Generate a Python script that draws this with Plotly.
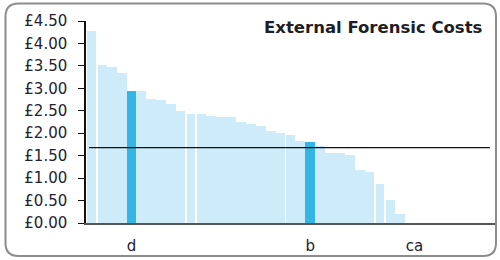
import plotly.graph_objects as go

# ---- data ----
costs = [4.28, 3.51, 3.47, 3.34, 2.95, 2.93, 2.77, 2.74, 2.66, 2.49,
         2.42, 2.42, 2.39, 2.36, 2.36, 2.24, 2.21, 2.16, 2.06, 2.01,
         1.95, 1.83, 1.80, 1.71, 1.57, 1.55, 1.51, 1.19, 1.13, 0.86,
         0.51, 0.21]
highlight = [4, 22]                 # indices of the dark bars
tick_labels = ["d", "b", "ca"]
tick_index = [4, 22, 32.5]
average = 1.68
y_ticks = [0, 0.5, 1, 1.5, 2, 2.5, 3, 3.5, 4, 4.5]
title_text = "External Forensic Costs"

LIGHT = "#CDEBF8"
DARK = "#33B6E6"

n = len(costs)
xs = list(range(n))
colors = [DARK if i in highlight else LIGHT for i in xs]

# small white separators seen between some bars
gap_bounds = [1, 10, 11, 20, 29, 30]
trim = 0.09
offsets = [-0.5] * n
widths = [1.0] * n
for b in gap_bounds:
    widths[b - 1] -= trim
    offsets[b] += trim
    widths[b] -= trim

fig = go.Figure()
fig.add_trace(go.Bar(
    x=xs, y=costs, marker=dict(color=colors, line=dict(width=0)),
    width=widths, offset=offsets, hoverinfo="skip"))

W, H = 500, 260
ML, MR, MT, MB = 86, 5, 21, 37
pw, ph = W - ML - MR, H - MT - MB

def px_x(px):
    return (px - ML) / pw

def px_y(py):
    return (H - MB - py) / ph

# rounded frame
x0, x1, y0, y1, r = 5.5, 496, 3.5, 256, 13
path = (f"M {px_x(x0+r)},{px_y(y0)} L {px_x(x1-r)},{px_y(y0)} "
        f"Q {px_x(x1)},{px_y(y0)} {px_x(x1)},{px_y(y0+r)} "
        f"L {px_x(x1)},{px_y(y1-r)} Q {px_x(x1)},{px_y(y1)} {px_x(x1-r)},{px_y(y1)} "
        f"L {px_x(x0+r)},{px_y(y1)} Q {px_x(x0)},{px_y(y1)} {px_x(x0)},{px_y(y1-r)} "
        f"L {px_x(x0)},{px_y(y0+r)} Q {px_x(x0)},{px_y(y0)} {px_x(x0+r)},{px_y(y0)} Z")
fig.add_shape(type="path", path=path, xref="paper", yref="paper",
              line=dict(color="#8C8C8C", width=2), layer="below")

# average line
fig.add_shape(type="line", xref="paper", yref="y",
              x0=px_x(89), x1=px_x(490), y0=average, y1=average,
              line=dict(color="#111111", width=1.3))

fig.add_annotation(text=f"<b>{title_text}</b>", xref="paper", yref="paper",
                   x=px_x(485), y=px_y(27), xanchor="right", yanchor="middle",
                   showarrow=False,
                   font=dict(family="DejaVu Sans", size=16.5, color="#1E1E28"))

fig.update_layout(
    width=W, height=H, margin=dict(l=ML, r=MR, t=MT, b=MB, autoexpand=False),
    paper_bgcolor="white", plot_bgcolor="white",
    bargap=0, showlegend=False,
    font=dict(family="DejaVu Sans", size=15, color="#222230"),
)
fig.update_xaxes(range=[-0.58, 40.6], tickvals=tick_index, ticktext=tick_labels,
                 showgrid=False, zeroline=False, showline=True,
                 linecolor="#555555", linewidth=2, ticks="",
                 ticklabelstandoff=8, automargin=False, fixedrange=True)
fig.update_yaxes(range=[0, 4.5], tickvals=y_ticks,
                 ticktext=[f"£{v:.2f}" for v in y_ticks],
                 showgrid=False, zeroline=False, showline=True,
                 linecolor="#111111", linewidth=1.5, ticks="outside",
                 ticklen=6, tickwidth=1.3, tickcolor="#111111",
                 ticklabelstandoff=8, automargin=False, fixedrange=True)

fig.write_html("out.html", config={"displayModeBar": False},
               post_script="document.body.style.margin='0';document.body.style.overflow='hidden';")
